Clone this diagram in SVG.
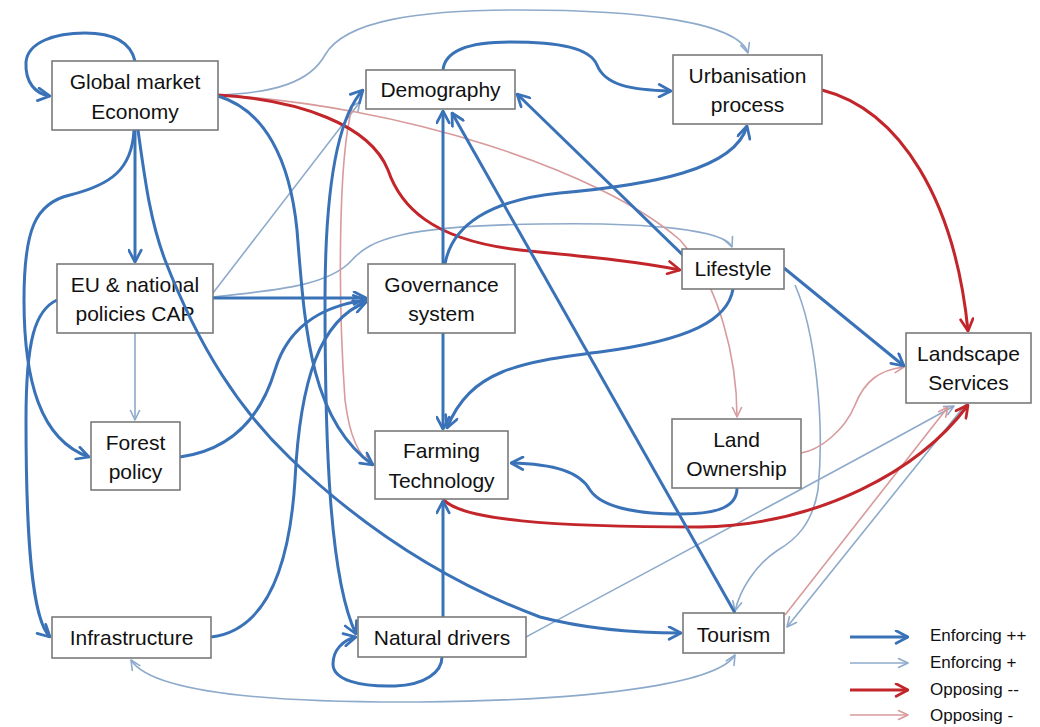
<svg xmlns="http://www.w3.org/2000/svg" width="1040" height="727" viewBox="0 0 1040 727">
<defs>
<style>
.box{fill:#fff;stroke:#7a7a7a;stroke-width:1.6}
.lbl{font-family:"Liberation Sans",Arial,sans-serif;font-size:21px;fill:#111;text-anchor:middle}
.leg{font-family:"Liberation Sans",Arial,sans-serif;font-size:17px;fill:#111}
.b2{fill:none;stroke:#3a72b8;stroke-width:3;marker-end:url(#mb2)}
.b1{fill:none;stroke:#8eaacb;stroke-width:1.6;marker-end:url(#mb1)}
.r2{fill:none;stroke:#c2262b;stroke-width:3;marker-end:url(#mr2)}
.r1{fill:none;stroke:#d89a9c;stroke-width:1.6;marker-end:url(#mr1)}
</style>
<marker id="mb2" viewBox="0 0 12 12" refX="11" refY="6" markerWidth="15" markerHeight="15" markerUnits="userSpaceOnUse" orient="auto-start-reverse"><path d="M1.5,1 L11,6 L1.5,11" fill="none" stroke="#3a72b8" stroke-width="2.2" stroke-linecap="round" stroke-linejoin="round"/></marker>
<marker id="mb1" viewBox="0 0 12 12" refX="11" refY="6" markerWidth="12" markerHeight="12" markerUnits="userSpaceOnUse" orient="auto-start-reverse"><path d="M1.5,1.5 L11,6 L1.5,10.5" fill="none" stroke="#8eaacb" stroke-width="1.6" stroke-linecap="round" stroke-linejoin="round"/></marker>
<marker id="mr2" viewBox="0 0 12 12" refX="11" refY="6" markerWidth="15" markerHeight="15" markerUnits="userSpaceOnUse" orient="auto-start-reverse"><path d="M1.5,1 L11,6 L1.5,11" fill="none" stroke="#c2262b" stroke-width="2.2" stroke-linecap="round" stroke-linejoin="round"/></marker>
<marker id="mr1" viewBox="0 0 12 12" refX="11" refY="6" markerWidth="12" markerHeight="12" markerUnits="userSpaceOnUse" orient="auto-start-reverse"><path d="M1.5,1.5 L11,6 L1.5,10.5" fill="none" stroke="#d89a9c" stroke-width="1.6" stroke-linecap="round" stroke-linejoin="round"/></marker>
</defs>
<rect width="1040" height="727" fill="#fff"/>
<g id="connectors">
<!-- thin light blue -->
<path class="b1" d="M218,95 C275,93 310,82 325,55 C345,20 420,10 520,10 C640,10 738,22 748,53"/>
<path class="b1" d="M213,293 L360,102"/>
<path class="b1" d="M135,333 L135,420"/>
<path class="b1" d="M213,297 C280,290 330,285 352,260 C370,240 400,226 540,224 C650,222 725,230 732,247"/>
<path class="b1" d="M795,285 C815,330 825,420 818,490 C812,525 795,540 778,550 C755,565 740,590 735,611"/>
<path class="b1" d="M526,637 C650,570 820,480 954,406"/>
<path class="b1" d="M966,404 L787,627"/>
<path class="b1" style="marker-start:url(#mb1)" d="M735,655 C720,680 620,700 420,702 C250,703 150,690 131,660"/>
<!-- thin light red -->
<path class="r1" d="M218,95 C400,105 600,170 680,240 C720,285 737,360 737,417"/>
<path class="r1" d="M352,108 C338,160 338,300 345,400 C350,440 360,458 373,464"/>
<path class="r1" d="M801,453 C820,450 845,430 855,405 C865,380 880,370 904,367"/>
<path class="r1" d="M785,615 L948,407"/>
<!-- thick red -->
<path class="r2" d="M218,95 C300,100 370,125 388,170 C400,205 430,240 520,250 C600,258 640,262 680,270"/>
<path class="r2" d="M822,90 C900,110 955,200 968,331"/>
<path class="r2" d="M443,499 C460,520 550,527 700,527 C820,525 920,470 968,405"/>
<!-- thick blue -->
<path class="b2" d="M135,61 C130,40 110,33 85,33 C55,33 28,42 26,62 C25,82 35,94 50,96"/>
<path class="b2" d="M135,130 L135,262"/>
<path class="b2" d="M134,130 C132,170 110,185 70,195 C35,203 24,230 24,300 C24,380 40,440 89,457"/>
<path class="b2" d="M218,96 C265,110 290,160 297,230 C305,330 310,420 373,465"/>
<path class="b2" d="M443,70 C445,50 470,42 510,42 C560,42 590,48 597,65 C605,85 630,90 671,91"/>
<path class="b2" style="marker-start:url(#mb2)" d="M363,90 C335,120 325,200 325,300 C325,450 330,580 356,634"/>
<path class="b2" d="M443,264 L443,111"/>
<path class="b2" d="M443,333 L443,429"/>
<path class="b2" d="M445,264 C452,225 490,200 560,193 C650,185 735,170 747,126"/>
<path class="b2" d="M213,298 L366,298"/>
<path class="b2" d="M57,300 C35,310 26,340 26,420 C26,540 32,620 50,637"/>
<path class="b2" d="M180,457 C230,450 260,420 275,370 C290,320 330,305 366,300"/>
<path class="b2" d="M211,637 C270,630 290,560 295,480 C300,380 320,320 366,302"/>
<path class="b2" d="M733,289 C728,320 690,340 600,352 C520,362 470,370 447,428"/>
<path class="b2" d="M690,262 L517,94"/>
<path class="b2" d="M735,613 L452,113"/>
<path class="b2" d="M737,488 C737,506 720,514 680,514 C630,514 600,505 590,490 C580,472 555,464 511,463"/>
<path class="b2" d="M784,268 L904,366"/>
<path class="b2" d="M443,617 L443,501"/>
<path class="b2" d="M442,657 C442,672 425,685 395,686 C360,687 333,680 333,664 C333,650 343,640 356,637"/>
</g>
<g id="n-global"><rect class="box" x="52" y="61" width="166" height="69"/><text class="lbl" x="135" y="89">Global market</text><text class="lbl" x="135" y="119">Economy</text></g>
<g id="n-demography"><rect class="box" x="366" y="70" width="149" height="39"/><text class="lbl" x="440.5" y="97">Demography</text></g>
<g id="n-urbanisation"><rect class="box" x="673" y="55" width="149" height="69"/><text class="lbl" x="747.5" y="83">Urbanisation</text><text class="lbl" x="747.5" y="112">process</text></g>
<g id="n-eu"><rect class="box" x="57" y="264" width="156" height="69"/><text class="lbl" x="135" y="292">EU &amp; national</text><text class="lbl" x="135" y="321">policies CAP</text></g>
<g id="n-forest"><rect class="box" x="91" y="422" width="89" height="68"/><text class="lbl" x="135.5" y="450">Forest</text><text class="lbl" x="135.5" y="479">policy</text></g>
<g id="n-governance"><rect class="box" x="368" y="264" width="147" height="69"/><text class="lbl" x="441.5" y="292">Governance</text><text class="lbl" x="441.5" y="321">system</text></g>
<g id="n-farming"><rect class="box" x="375" y="431" width="133" height="68"/><text class="lbl" x="441.5" y="458">Farming</text><text class="lbl" x="441.5" y="488">Technology</text></g>
<g id="n-lifestyle"><rect class="box" x="682" y="249" width="102" height="40"/><text class="lbl" x="733" y="276">Lifestyle</text></g>
<g id="n-landownership"><rect class="box" x="672" y="419" width="129" height="69"/><text class="lbl" x="736.5" y="447">Land</text><text class="lbl" x="736.5" y="476">Ownership</text></g>
<g id="n-landscape"><rect class="box" x="906" y="333" width="125" height="70"/><text class="lbl" x="968.5" y="361">Landscape</text><text class="lbl" x="968.5" y="390">Services</text></g>
<g id="n-infrastructure"><rect class="box" x="52" y="617" width="159" height="41"/><text class="lbl" x="131.5" y="645">Infrastructure</text></g>
<g id="n-natural"><rect class="box" x="358" y="617" width="168" height="40"/><text class="lbl" x="442" y="645">Natural drivers</text></g>
<g id="n-tourism"><rect class="box" x="683" y="613" width="101" height="40"/><text class="lbl" x="733.5" y="642">Tourism</text></g>
<g id="connectors-over">
<path class="b2" d="M138,130 C145,180 150,220 165,260 C200,350 240,410 290,458 C360,525 440,580 540,617 C590,630 640,633 681,633"/>
</g>
<g id="legend">
<path class="b2" d="M850,637 L908,637"/>
<path class="b1" d="M850,663 L908,663"/>
<path class="r2" d="M850,690 L908,690"/>
<path class="r1" d="M850,715 L908,715"/>
<text class="leg" x="930" y="641">Enforcing ++</text>
<text class="leg" x="930" y="668">Enforcing +</text>
<text class="leg" x="930" y="695">Opposing --</text>
<text class="leg" x="930" y="721">Opposing -</text>
</g>
</svg>
